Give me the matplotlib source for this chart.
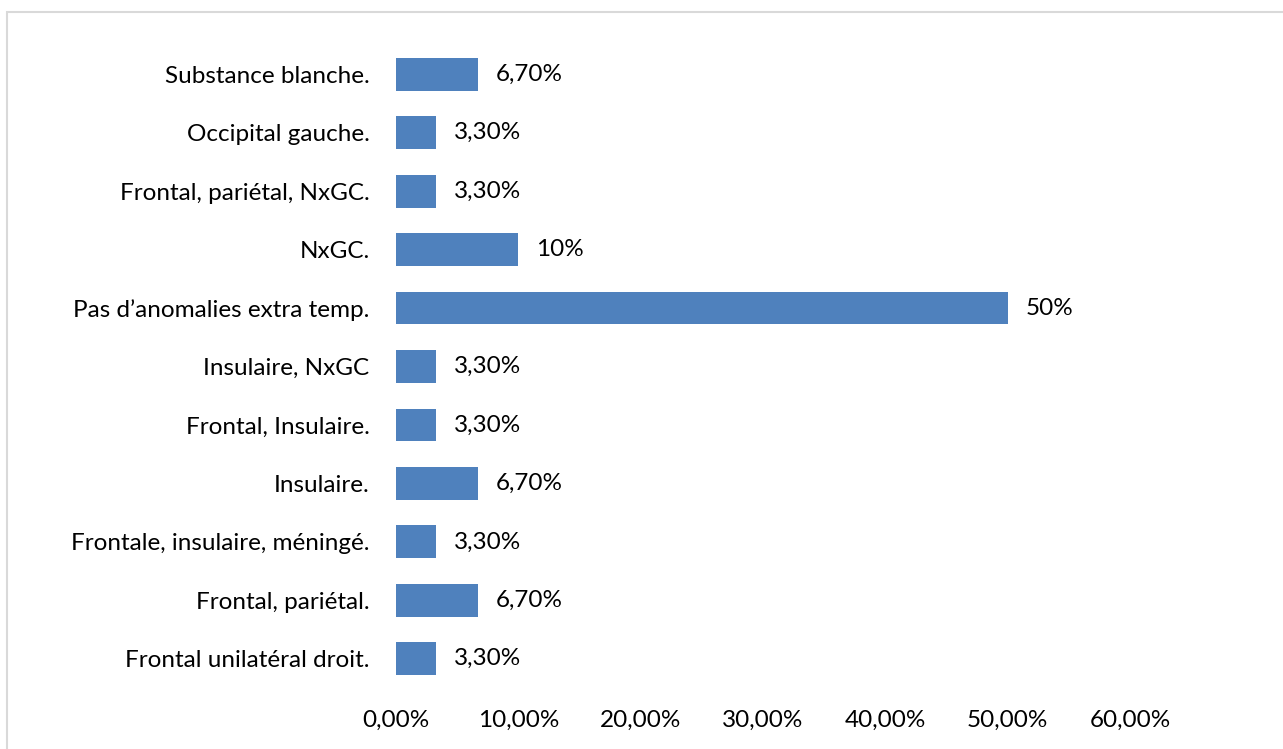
import matplotlib
matplotlib.use("Agg")
import matplotlib.pyplot as plt
from matplotlib.patches import Rectangle
from matplotlib.ticker import FuncFormatter

categories = ["Substance blanche.", "Occipital gauche.", "Frontal, pariétal, NxGC.", "NxGC.",
              "Pas d\u2019anomalies extra temp.", "Insulaire, NxGC", "Frontal, Insulaire.",
              "Insulaire.", "Frontale, insulaire, méningé.", "Frontal, pariétal.",
              "Frontal unilatéral droit."]
values = [6.7, 3.3, 3.3, 10, 50, 3.3, 3.3, 6.7, 3.3, 6.7, 3.3]
labels = ["6,70%", "3,30%", "3,30%", "10%", "50%", "3,30%", "3,30%", "6,70%", "3,30%", "6,70%", "3,30%"]
xticks = [0, 10, 20, 30, 40, 50, 60]

plt.rcParams['font.family'] = ['Lato', 'DejaVu Sans']
fs = 17.5

fig = plt.figure(figsize=(12.83, 7.49), dpi=100)
fig.patches.append(Rectangle((7/1283, -0.1), 1.1, 1 - 12/749 + 0.1, transform=fig.transFigure,
                             fill=False, edgecolor='#d9d9d9', linewidth=1.5))
ax = fig.add_axes([396/1283, 1 - 688/749, 734/1283, 643/749])

n = len(categories)
ypos = list(range(n - 1, -1, -1))
ax.barh(ypos, values, height=0.56, color='#4f81bd')
for y, v, lab in zip(ypos, values, labels):
    ax.text(v + 1.45, y, lab, va='center', ha='left', fontsize=fs, color='#000000')

ax.set_xlim(0, 60)
ax.set_ylim(-0.5, n - 0.5)
ax.set_yticks(ypos)
ax.set_yticklabels(categories, fontsize=fs)
ax.set_xticks(xticks)
ax.xaxis.set_major_formatter(FuncFormatter(lambda v, p: f"{v:.2f}".replace('.', ',') + "%"))
ax.tick_params(axis='x', length=0, labelsize=fs, pad=16)
ax.tick_params(axis='y', length=0, pad=19)
for s in ax.spines.values():
    s.set_visible(False)

fig.savefig("out.png", dpi=100)
